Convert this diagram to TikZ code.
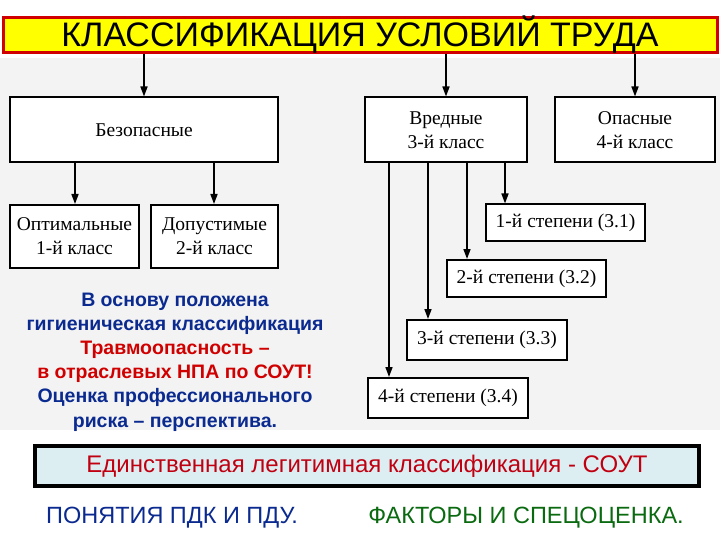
\documentclass[tikz,border=0pt]{standalone}
\usepackage{fontspec}
\setmainfont{Liberation Serif}
\newfontfamily\arialf{Liberation Sans}
\usetikzlibrary{arrows.meta}
\definecolor{bgg}{HTML}{F3F3F3}
\definecolor{ttlred}{HTML}{D00000}
\definecolor{ttlyel}{HTML}{FFFF00}
\definecolor{boxblue}{HTML}{DDEEF3}
\definecolor{txtblue}{HTML}{0A2A90}
\definecolor{txtred}{HTML}{D00000}
\definecolor{txtgreen}{HTML}{0A6A10}
\definecolor{bred}{HTML}{C00010}
\begin{document}
\begin{tikzpicture}[x=1pt,y=-1pt,
  cbox/.style={draw=black,line width=2pt,fill=white,inner sep=0pt,align=center,font=\fontsize{19.5}{24}\selectfont},
  arr/.style={line width=1.6pt,-{Triangle[length=10pt,width=7pt]}},
  ln/.style={line width=1.4pt}]
\useasboundingbox (0,0) rectangle (720,540);
\fill[white] (0,0) rectangle (720,540);
\fill[bgg] (0,58) rectangle (720,430);
\node[draw=ttlred,fill=ttlyel,line width=3pt,minimum width=714pt,minimum height=35pt,inner sep=0pt,text height=24pt,text depth=1pt,font=\arialf\fontsize{34}{34}\selectfont] (title) at (360,35) {КЛАССИФИКАЦИЯ УСЛОВИЙ ТРУДА};
\node[cbox,minimum width=268pt,minimum height=65pt] (bez) at (144,130) {Безопасные};
\node[cbox,minimum width=162pt,minimum height=65pt] (vr) at (446,130) {Вредные\\3-й класс};
\node[cbox,minimum width=160pt,minimum height=65pt] (op) at (635,130) {Опасные\\4-й класс};
\node[cbox,minimum width=129pt,minimum height=63pt] (opt) at (74.5,236.5) {Оптимальные\\1-й класс};
\node[cbox,minimum width=127pt,minimum height=63pt] (dop) at (214.5,236.5) {Допустимые\\2-й класс};
\node[cbox,minimum width=159pt,minimum height=36pt] (s1) at (565.5,222.5) {1-й степени (3.1)};
\node[cbox,minimum width=159pt,minimum height=37pt] (s2) at (526.5,278.5) {2-й степени (3.2)};
\node[cbox,minimum width=160pt,minimum height=40pt] (s3) at (487,340) {3-й степени (3.3)};
\node[cbox,minimum width=160pt,minimum height=40pt] (s4) at (448,398) {4-й степени (3.4)};
\draw[arr] (title.south -| bez.north) -- (bez.north);
\draw[arr] (title.south -| vr.north) -- (vr.north);
\draw[arr] (title.south -| op.north) -- (op.north);
\coordinate (b1) at (75,162); \coordinate (b2) at (214,162);
\draw[arr] (b1) -- (b1 |- opt.north);
\draw[arr] (b2) -- (b2 |- dop.north);
\coordinate (v1) at (505,162); \coordinate (v2) at (467,162);
\coordinate (v3) at (428,162); \coordinate (v4) at (389,162);
\draw[arr] (v1) -- (v1 |- s1.north);
\draw[arr] (v2) -- (v2 |- s2.north);
\draw[arr] (v3) -- (v3 |- s3.north);
\draw[arr] (v4) -- (v4 |- s4.north);
\node[align=center,font=\arialf\bfseries\fontsize{19.5}{24.2}\selectfont] (note) at (175,362) {\textcolor{txtblue}{В основу положена}\\\textcolor{txtblue}{гигиеническая классификация}\\\textcolor{txtred}{Травмоопасность –}\\\textcolor{txtred}{в отраслевых НПА по СОУТ!}\\\textcolor{txtblue}{Оценка профессионального}\\\textcolor{txtblue}{риска – перспектива.}};
\node[draw=black,fill=boxblue,line width=4.5pt,minimum width=664pt,minimum height=40pt,inner sep=0pt,text=bred,font=\arialf\fontsize{24}{26}\selectfont] (sout) at (367,466) {Единственная легитимная классификация - СОУТ};
\node[text=txtblue,font=\arialf\fontsize{23.5}{26}\selectfont] (pdk) at (172,518) {ПОНЯТИЯ ПДК И ПДУ.};
\node[text=txtgreen,font=\arialf\fontsize{23.5}{26}\selectfont] (fak) at (526,518) {ФАКТОРЫ И СПЕЦОЦЕНКА.};
\end{tikzpicture}
\end{document}
